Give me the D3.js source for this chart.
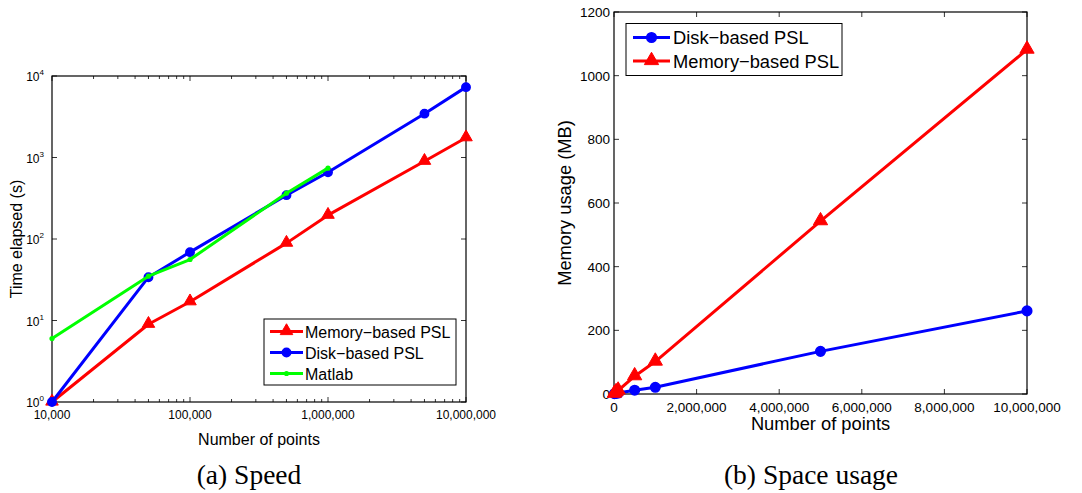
<!DOCTYPE html>
<html>
<head>
<meta charset="utf-8">
<script src="https://cdn.jsdelivr.net/npm/d3@7/dist/d3.min.js"></script>
<style>
  html, body { margin: 0; padding: 0; background: #fff; }
  svg { display: block; }
  text { font-family: "Liberation Sans", Arial, Helvetica, sans-serif; fill: #000; }
  .caption { font-family: "Liberation Serif", "DejaVu Serif", serif; }
</style>
</head>
<body>
<svg id="fig" width="1082" height="493"></svg>
<script>
// ---- Speed: time elapsed (s) vs number of points ----
const speedPoints = [10000, 50000, 100000, 500000, 1000000, 5000000, 10000000];
const speedMemory = [1, 9, 17, 89, 196, 900, 1750];
const speedDisk   = [1, 34, 69, 345, 660, 3450, 7300];
const matlabPoints = [10000, 50000, 100000, 500000, 1000000];
const speedMatlab  = [6, 35, 56, 365, 740];
const speedXTicks = [10000, 100000, 1000000, 10000000];
const speedYTicks = [1, 10, 100, 1000, 10000];

// ---- Space usage: memory (MB) vs number of points ----
const spacePoints = [10000, 50000, 100000, 500000, 1000000, 5000000, 10000000];
const spaceDisk   = [1, 2, 3, 12, 21, 134, 261];
const spaceMemory = [1, 6, 11, 56, 102, 543, 1082];
const spaceXTicks = [0, 2000000, 4000000, 6000000, 8000000, 10000000];
const spaceYTicks = [0, 200, 400, 600, 800, 1000, 1200];

const RED = "#ff0000", BLUE = "#0000ff", GREEN = "#00ff00";
const fmt = d3.format(",");
const svg = d3.select("#fig");

function triangle(g, x, y, s, color) {
  g.append("path")
    .attr("d", d3.symbol().type(d3.symbolTriangle).size(s)())
    .attr("transform", `translate(${x},${y - 0.5})`)
    .attr("fill", color).attr("stroke", color).attr("stroke-width", 1);
}
function circle(g, x, y, r, color) {
  g.append("circle").attr("cx", x).attr("cy", y).attr("r", r)
    .attr("fill", color).attr("stroke", color).attr("stroke-width", 1.5);
}
function dot(g, x, y, color) {
  g.append("circle").attr("cx", x).attr("cy", y).attr("r", 2.6).attr("fill", color);
}

// ================= (a) Speed =================
{
  const L = 52, R = 466, T = 76, B = 402;
  const x = d3.scaleLog().domain([1e4, 1e7]).range([L, R]);
  const y = d3.scaleLog().domain([1, 1e4]).range([B, T]);
  const g = svg.append("g");

  g.append("rect").attr("x", L).attr("y", T).attr("width", R - L).attr("height", B - T)
    .attr("fill", "none").attr("stroke", "#000").attr("stroke-width", 1.2);

  // major + minor x ticks on bottom and top edges
  const minor = [];
  for (let e = 4; e < 7; e++) for (let m = 2; m <= 9; m++) minor.push(m * Math.pow(10, e));
  minor.forEach(v => {
    g.append("line").attr("x1", x(v)).attr("x2", x(v)).attr("y1", B).attr("y2", B - 3).attr("stroke", "#000").attr("stroke-width", 0.8);
    g.append("line").attr("x1", x(v)).attr("x2", x(v)).attr("y1", T).attr("y2", T + 3).attr("stroke", "#000").attr("stroke-width", 0.8);
  });
  speedXTicks.forEach(v => {
    g.append("line").attr("x1", x(v)).attr("x2", x(v)).attr("y1", B).attr("y2", B - 5).attr("stroke", "#000").attr("stroke-width", 0.8);
    g.append("line").attr("x1", x(v)).attr("x2", x(v)).attr("y1", T).attr("y2", T + 5).attr("stroke", "#000").attr("stroke-width", 0.8);
    g.append("text").attr("x", x(v)).attr("y", B + 17).attr("text-anchor", "middle")
      .attr("font-size", 12).text(fmt(v));
  });
  speedYTicks.forEach(v => {
    g.append("line").attr("x1", L).attr("x2", L + 5).attr("y1", y(v)).attr("y2", y(v)).attr("stroke", "#000").attr("stroke-width", 0.8);
    g.append("line").attr("x1", R).attr("x2", R - 5).attr("y1", y(v)).attr("y2", y(v)).attr("stroke", "#000").attr("stroke-width", 0.8);
    const t = g.append("text").attr("x", L - 8).attr("y", y(v) + 5).attr("text-anchor", "end").attr("font-size", 12);
    t.append("tspan").text("10");
    t.append("tspan").attr("dy", -6).attr("font-size", 8).text(String(Math.round(Math.log10(v))));
  });

  const line = d3.line().x(d => x(d[0])).y(d => y(d[1]));
  const series = [
    { xs: speedPoints, ys: speedMemory, color: RED, mark: "tri" },
    { xs: speedPoints, ys: speedDisk, color: BLUE, mark: "circ" },
    { xs: matlabPoints, ys: speedMatlab, color: GREEN, mark: "dot" }
  ];
  series.forEach(s => {
    const pts = s.xs.map((v, i) => [v, s.ys[i]]);
    g.append("path").attr("d", line(pts)).attr("fill", "none").attr("stroke", s.color)
      .attr("stroke-width", 3).attr("stroke-linejoin", "round");
    pts.forEach(p => {
      if (s.mark === "tri") triangle(g, x(p[0]), y(p[1]), 68, s.color);
      else if (s.mark === "circ") circle(g, x(p[0]), y(p[1]), 4.2, s.color);
      else dot(g, x(p[0]), y(p[1]), s.color);
    });
  });

  // legend
  const lg = g.append("g");
  lg.append("rect").attr("x", 264).attr("y", 319).attr("width", 192).attr("height", 66)
    .attr("fill", "#fff").attr("stroke", "#000").attr("stroke-width", 1);
  const rows = [
    { label: "Memory\u2212based PSL", color: RED, mark: "tri" },
    { label: "Disk\u2212based PSL", color: BLUE, mark: "circ" },
    { label: "Matlab", color: GREEN, mark: "dot" }
  ];
  rows.forEach((r, i) => {
    const yy = 331.5 + i * 21;
    lg.append("line").attr("x1", 270).attr("x2", 303).attr("y1", yy).attr("y2", yy)
      .attr("stroke", r.color).attr("stroke-width", 3);
    if (r.mark === "tri") triangle(lg, 286.5, yy, 68, r.color);
    else if (r.mark === "circ") circle(lg, 286.5, yy, 4.2, r.color);
    else dot(lg, 286.5, yy, r.color);
    lg.append("text").attr("x", 305).attr("y", yy + 6).attr("font-size", 16).text(r.label);
  });

  g.append("text").attr("x", (L + R) / 2).attr("y", 445).attr("text-anchor", "middle")
    .attr("font-size", 16).text("Number of points");
  g.append("text").attr("transform", `translate(22,${(T + B) / 2}) rotate(-90)`)
    .attr("text-anchor", "middle").attr("font-size", 16).text("Time elapsed (s)");
  g.append("text").attr("class", "caption").attr("x", 249).attr("y", 484)
    .attr("text-anchor", "middle").attr("font-size", 27.5).text("(a) Speed");
}

// ================= (b) Space usage =================
{
  const L = 614, R = 1027, T = 12, B = 394;
  const x = d3.scaleLinear().domain([0, 1e7]).range([L, R]);
  const y = d3.scaleLinear().domain([0, 1200]).range([B, T]);
  const g = svg.append("g");

  g.append("rect").attr("x", L).attr("y", T).attr("width", R - L).attr("height", B - T)
    .attr("fill", "none").attr("stroke", "#000").attr("stroke-width", 1.2);

  spaceXTicks.forEach(v => {
    g.append("line").attr("x1", x(v)).attr("x2", x(v)).attr("y1", B).attr("y2", B - 5).attr("stroke", "#000").attr("stroke-width", 0.8);
    g.append("line").attr("x1", x(v)).attr("x2", x(v)).attr("y1", T).attr("y2", T + 5).attr("stroke", "#000").attr("stroke-width", 0.8);
    g.append("text").attr("x", x(v)).attr("y", B + 18).attr("text-anchor", "middle")
      .attr("font-size", 13.5).text(fmt(v));
  });
  spaceYTicks.forEach(v => {
    g.append("line").attr("x1", L).attr("x2", L + 5).attr("y1", y(v)).attr("y2", y(v)).attr("stroke", "#000").attr("stroke-width", 0.8);
    g.append("line").attr("x1", R).attr("x2", R - 5).attr("y1", y(v)).attr("y2", y(v)).attr("stroke", "#000").attr("stroke-width", 0.8);
    g.append("text").attr("x", L - 4).attr("y", y(v) + 5).attr("text-anchor", "end")
      .attr("font-size", 13.5).text(v);
  });

  const line = d3.line().x(d => x(d[0])).y(d => y(d[1]));
  const series = [
    { ys: spaceDisk, color: BLUE, mark: "circ" },
    { ys: spaceMemory, color: RED, mark: "tri" }
  ];
  series.forEach(s => {
    const pts = spacePoints.map((v, i) => [v, s.ys[i]]);
    g.append("path").attr("d", line(pts)).attr("fill", "none").attr("stroke", s.color)
      .attr("stroke-width", 3).attr("stroke-linejoin", "round");
    pts.forEach(p => {
      if (s.mark === "tri") triangle(g, x(p[0]), y(p[1]), 88, s.color);
      else circle(g, x(p[0]), y(p[1]), 4.8, s.color);
    });
  });

  const lg = g.append("g");
  lg.append("rect").attr("x", 626).attr("y", 23.5).attr("width", 216).attr("height", 52)
    .attr("fill", "#fff").attr("stroke", "#000").attr("stroke-width", 1);
  const rows = [
    { label: "Disk\u2212based PSL", color: BLUE, mark: "circ" },
    { label: "Memory\u2212based PSL", color: RED, mark: "tri" }
  ];
  rows.forEach((r, i) => {
    const yy = 37.5 + i * 23.5;
    lg.append("line").attr("x1", 633).attr("x2", 670).attr("y1", yy).attr("y2", yy)
      .attr("stroke", r.color).attr("stroke-width", 3);
    if (r.mark === "tri") triangle(lg, 651.5, yy, 88, r.color);
    else circle(lg, 651.5, yy, 4.8, r.color);
    lg.append("text").attr("x", 673).attr("y", yy + 6.5).attr("font-size", 18.3).text(r.label);
  });

  g.append("text").attr("x", (L + R) / 2).attr("y", 430).attr("text-anchor", "middle")
    .attr("font-size", 18.3).text("Number of points");
  g.append("text").attr("transform", `translate(571,${(T + B) / 2}) rotate(-90)`)
    .attr("text-anchor", "middle").attr("font-size", 18.3).text("Memory usage (MB)");
  g.append("text").attr("class", "caption").attr("x", 811).attr("y", 484)
    .attr("text-anchor", "middle").attr("font-size", 27.5).text("(b) Space usage");
}
</script>
</body>
</html>
